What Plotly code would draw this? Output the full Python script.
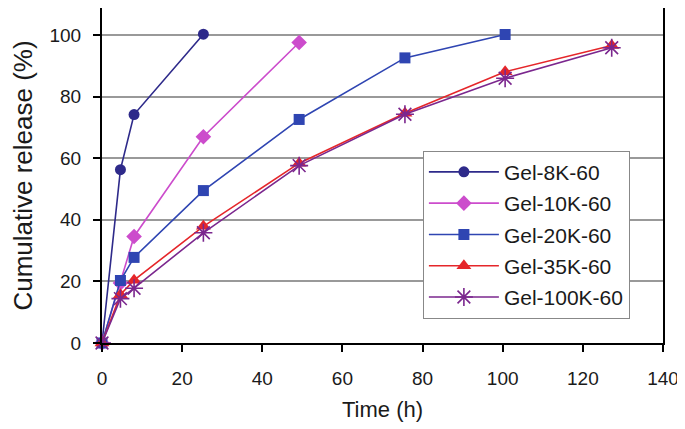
import plotly.graph_objects as go

# time points (h)
time_8k = [0, 4.6, 8, 25.3]
time_10k = [0, 4.6, 8, 25.3, 49.2]
time_20k = [0, 4.6, 8, 25.3, 49.2, 75.6, 100.6]
time_35k = [0, 4.6, 8, 25.3, 49.2, 75.6, 100.6, 127.2]
time_100k = [0, 4.6, 8, 25.3, 49.2, 75.6, 100.6, 127.2]

# cumulative release (%)
rel_8k = [0, 56.3, 74.2, 100.3]
rel_10k = [0, 19.5, 34.6, 67.0, 97.6]
rel_20k = [0, 20.3, 27.8, 49.5, 72.6, 92.6, 100.2]
rel_35k = [0, 15.7, 20.4, 37.9, 58.4, 74.6, 88.1, 96.6]
rel_100k = [0, 14.4, 17.8, 35.8, 57.6, 74.3, 86.0, 95.9]

x_ticks = [0, 20, 40, 60, 80, 100, 120, 140]
y_ticks = [0, 20, 40, 60, 80, 100]

FONT = "Liberation Sans, Arial, sans-serif"

series = [
    ("Gel-8K-60", time_8k, rel_8k, "#2E2A8A", "circle", 11),
    ("Gel-10K-60", time_10k, rel_10k, "#CC4CCC", "diamond", 12),
    ("Gel-20K-60", time_20k, rel_20k, "#2F45B2", "square", 11),
    ("Gel-35K-60", time_35k, rel_35k, "#E5262A", "triangle-up", 13),
    ("Gel-100K-60", time_100k, rel_100k, "#7B278E", "asterisk-open", 15),
]

fig = go.Figure()
for name, xs, ys, colour, symbol, size in series:
    marker = dict(color=colour, size=size, symbol=symbol)
    if symbol == "asterisk-open":
        marker["line"] = dict(color=colour, width=1.6)
    fig.add_trace(
        go.Scatter(
            x=xs, y=ys, name=name, mode="lines+markers",
            line=dict(color=colour, width=1.6),
            marker=marker,
            legendgroup=name,
            cliponaxis=False,
        )
    )

# the page body adds an 8px offset, so the figure is a little smaller
fig.update_layout(
    width=677, height=421,
    paper_bgcolor="white", plot_bgcolor="white",
    margin=dict(l=94, r=22, t=0, b=86, autoexpand=False),
    font=dict(family=FONT, size=19, color="#1a1a1a"),
    legend=dict(
        x=0.572, y=0.574, xanchor="left", yanchor="top",
        bgcolor="white", bordercolor="#888888", borderwidth=1,
        font=dict(size=21), tracegroupgap=1, itemwidth=70,
    ),
    showlegend=True,
)

fig.update_xaxes(
    range=[0, 140], tickvals=x_ticks,
    showline=True, linecolor="black", linewidth=2, mirror=True,
    ticks="outside", ticklen=7, tickwidth=2, tickcolor="black",
    showgrid=False, zeroline=False,
    title=dict(text="Time (h)", font=dict(size=22), standoff=14),
    ticklabelstandoff=10,
)
fig.update_yaxes(
    range=[0, 108.8], tickvals=y_ticks,
    showline=True, linecolor="black", linewidth=2, mirror=True,
    ticks="outside", ticklen=7, tickwidth=2, tickcolor="black",
    showgrid=True, gridcolor="#999999", gridwidth=1.5, zeroline=False,
    title=dict(text="Cumulative release (%)", font=dict(size=26), standoff=10),
    ticklabelstandoff=8,
)

fig.write_html("out.html")
